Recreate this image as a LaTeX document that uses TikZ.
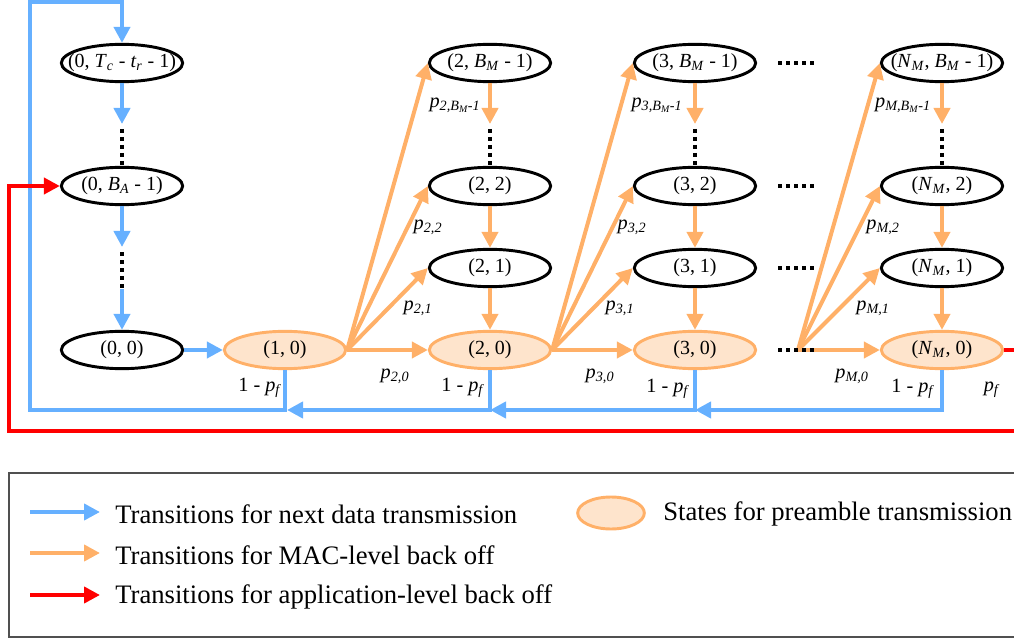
\documentclass[tikz,border=0pt]{standalone}
\usepackage{fontspec}
\setmainfont{Liberation Serif}
\usetikzlibrary{arrows.meta,shapes.geometric}

\definecolor{tblue}{RGB}{102,176,255}
\definecolor{torange}{RGB}{255,176,104}
\definecolor{tpeach}{RGB}{254,228,204}
\definecolor{tred}{RGB}{255,0,0}
\definecolor{tframe}{RGB}{80,80,80}

\newcommand\sub[1]{\textsubscript{\textit{#1}}}
\newcommand\pl[1]{\textit{p}\sub{#1}}

\begin{document}
\begin{tikzpicture}[x=0.75pt,y=-0.75pt,
  tip/.style={-{Triangle[length=12pt,width=12pt]}},
  state/.style={ellipse, draw=black, line width=2.2pt, fill=white,
    minimum width=91pt, minimum height=28pt, inner sep=0pt,
    font=\fontsize{15}{18}\selectfont,
    execute at begin node={\hbox to 0pt\bgroup\hss},
    execute at end node={\hss\egroup}},
  pre/.style={state, draw=torange, fill=tpeach},
  dataln/.style={draw=tblue, line width=3pt},
  macln/.style={draw=torange, line width=3pt},
  appln/.style={draw=tred, line width=3pt},
  dotln/.style={draw=black, line width=3pt, dash pattern=on 3pt off 3pt},
  lbl/.style={inner sep=0pt, font=\fontsize{15.2}{18}\selectfont},
  legtext/.style={anchor=west, inner sep=0pt, font=\fontsize{20}{24}\selectfont},
  legbox/.style={draw=tframe, line width=1pt}
]
\useasboundingbox (0,0) rectangle (1014,638);

% ---------- states ----------
\node[state] (ntc) at (122,63)  {(0, \textit{T}\sub{c} - \textit{t}\sub{r} - 1)};
\node[state] (nba) at (122,186) {(0, \textit{B}\sub{A} - 1)};
\node[state] (n00) at (122,350) {(0, 0)};
\node[pre]   (n10) at (285,350) {(1, 0)};

\node[state] (n2m) at (490,63)  {(2, \textit{B}\sub{M} - 1)};
\node[state] (n22) at (490,186) {(2, 2)};
\node[state] (n21) at (490,268) {(2, 1)};
\node[pre]   (n20) at (490,350) {(2, 0)};

\node[state] (n3m) at (695,63)  {(3, \textit{B}\sub{M} - 1)};
\node[state] (n32) at (695,186) {(3, 2)};
\node[state] (n31) at (695,268) {(3, 1)};
\node[pre]   (n30) at (695,350) {(3, 0)};

\node[state] (nmm) at (942,63)  {(\textit{N}\sub{M}, \textit{B}\sub{M} - 1)};
\node[state] (nm2) at (942,186) {(\textit{N}\sub{M}, 2)};
\node[state] (nm1) at (942,268) {(\textit{N}\sub{M}, 1)};
\node[pre]   (nm0) at (942,350) {(\textit{N}\sub{M}, 0)};

% ---------- helper points ----------
\coordinate (a0) at (122,124);
\coordinate (b0) at (122,129);
\coordinate (a1) at (122,247);
\coordinate (b1) at (122,252);
\coordinate (c1) at (122,289);
\coordinate (a2) at (490,124);
\coordinate (b2) at (490,129);
\coordinate (a3) at (695,124);
\coordinate (b3) at (695,129);
\coordinate (am) at (942,124);
\coordinate (bm) at (942,129);
\coordinate (fm) at (798,350);
\coordinate (r1) at (1030,350);
\coordinate (r2) at (9,431);
\coordinate (u1) at (30,410);
\coordinate (u2) at (30,2);
\coordinate (j1) at (287,410);
\coordinate (j2) at (490,410);
\coordinate (j3) at (695,410);

% ---------- column 0 (data) ----------
\draw[dataln,tip] (ntc.south) -- (a0);
\draw[dotln] (b0) -- (nba.north);
\draw[dataln,tip] (nba.south) -- (a1);
\draw[dotln] (b1) -- (c1);
\draw[dataln,tip] (c1) -- (n00.north);
\draw[dataln,tip] (n00.east) -- (n10.west);

% ---------- MAC-level back off ----------
\foreach \t in {n20,n21,n22,n2m} \draw[macln,tip] (n10.east) -- (\t.west);
\foreach \t in {n30,n31,n32,n3m} \draw[macln,tip] (n20.east) -- (\t.west);
\foreach \t in {nm0,nm1,nm2,nmm} \draw[macln,tip] (fm) -- (\t.west);

\draw[macln,tip] (n2m.south) -- (a2);
\draw[dotln] (b2) -- (n22.north);
\draw[macln,tip] (n22.south) -- (n21.north);
\draw[macln,tip] (n21.south) -- (n20.north);

\draw[macln,tip] (n3m.south) -- (a3);
\draw[dotln] (b3) -- (n32.north);
\draw[macln,tip] (n32.south) -- (n31.north);
\draw[macln,tip] (n31.south) -- (n30.north);

\draw[macln,tip] (nmm.south) -- (am);
\draw[dotln] (bm) -- (nm2.north);
\draw[macln,tip] (nm2.south) -- (nm1.north);
\draw[macln,tip] (nm1.south) -- (nm0.north);

% ---------- horizontal dots between column 3 and column N_M ----------
\foreach \y/\n in {63/d1,186/d2,268/d3,350/d4} {
  \coordinate (\n s) at (778,\y);
  \coordinate (\n e) at (816,\y);
  \draw[dotln] (\n s) -- (\n e);
}

% ---------- next data transmission ----------
\draw[dataln,tip] (nm0.south) |- (j3);
\draw[dataln,tip] (n30.south) |- (j2);
\draw[dataln,tip] (n20.south) |- (j1);
\draw[dataln,tip] (n10.south) |- (u1) -- (u2) -| (ntc.north);

% ---------- application-level back off ----------
\draw[appln,tip] (nm0.east) -- (r1) |- (r2) |- (nba.west);

% ---------- transition labels ----------
\node[lbl] (l2m) at (455,105) {\pl{2,B\textsubscript{M}-1}};
\node[lbl] (l22) at (428,227) {\pl{2,2}};
\node[lbl] (l21) at (418,308) {\pl{2,1}};
\node[lbl] (l20) at (395,376) {\pl{2,0}};
\node[lbl] (l3m) at (657,105) {\pl{3,B\textsubscript{M}-1}};
\node[lbl] (l32) at (632,227) {\pl{3,2}};
\node[lbl] (l31) at (620,308) {\pl{3,1}};
\node[lbl] (l30) at (600,376) {\pl{3,0}};
\node[lbl] (lmm) at (903,105) {\pl{M,B\textsubscript{M}-1}};
\node[lbl] (lm2) at (883,227) {\pl{M,2}};
\node[lbl] (lm1) at (873,308) {\pl{M,1}};
\node[lbl] (lm0) at (852,376) {\pl{M,0}};
\node[lbl] (f1) at (260,388) {1 - \textit{p}\sub{f}};
\node[lbl] (f2) at (463,388) {1 - \textit{p}\sub{f}};
\node[lbl] (f3) at (668,389) {1 - \textit{p}\sub{f}};
\node[lbl] (f4) at (913,389) {1 - \textit{p}\sub{f}};
\node[lbl] (pf) at (992,390) {\textit{p}\sub{f}};

% ---------- legend ----------
\draw[legbox] (9,473) rectangle (1030,637);
\coordinate (k1s) at (30,512);  \coordinate (k1e) at (100,512);
\coordinate (k2s) at (30,553);  \coordinate (k2e) at (100,553);
\coordinate (k3s) at (30,595);  \coordinate (k3e) at (100,595);
\draw[dataln,tip] (k1s) -- (k1e);
\draw[macln,tip]  (k2s) -- (k2e);
\draw[appln,tip]  (k3s) -- (k3e);
\node[legtext] (t1) at (115,514) {Transitions for next data transmission};
\node[legtext] (t2) at (115,555) {Transitions for MAC-level back off};
\node[legtext] (t3) at (115,597) {Transitions for application-level back off};
\node[pre, minimum width=50pt, minimum height=24pt] (kp) at (611,513) {};
\node[legtext] (t4) at (663,514) {States for preamble transmission};
\end{tikzpicture}
\end{document}
